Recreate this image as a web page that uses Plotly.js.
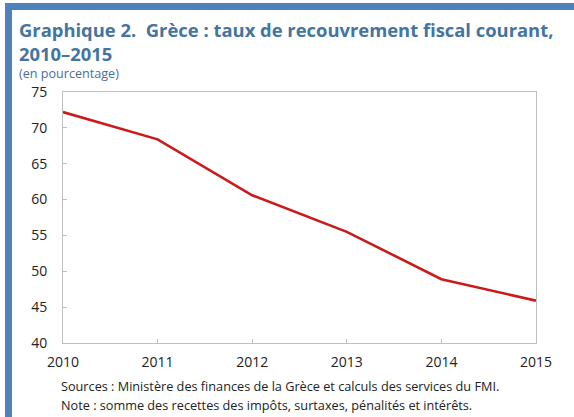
<!DOCTYPE html>
<html><head><meta charset="utf-8">
<script src="https://cdn.plot.ly/plotly-3.0.1.min.js"></script>
<style>html,body{margin:0;padding:0;background:#fff;}#chart{width:574px;height:417px;}</style>
</head><body><div id="chart"></div>
<script>
const years = [2010, 2011, 2012, 2013, 2014, 2015];
const rate = [72.2, 68.4, 60.6, 55.5, 48.9, 45.9];
const yTicks = [40, 45, 50, 55, 60, 65, 70, 75];
const titleLine1 = "Graphique 2.  Grèce : taux de recouvrement fiscal courant,";
const titleLine2 = "2010–2015";
const subtitle = "(en pourcentage)";
const note1 = "Sources : Ministère des finances de la Grèce et calculs des services du FMI.";
const note2 = "Note : somme des recettes des impôts, surtaxes, pénalités et intérêts.";

const W = 574, H = 417, L = 63, R = 38, T = 92, B = 74;
const pw = W - L - R, ph = H - T - B;
const px = x => (x - L) / pw;
const py = y => (H - B - y) / ph;
const blue = "#4f81bd";
const titleColor = "#44749f";
const font = "Open Sans, sans-serif";

const trace = {x: years, y: rate, type: "scatter", mode: "lines",
  line: {color: "#cc1a1a", width: 2.6}, hoverinfo: "skip"};

const ann = (text, x, y, size, color, bold) => ({
  text: bold ? "<b>" + text + "</b>" : text, xref: "paper", yref: "paper",
  x: px(x), y: py(y), xanchor: "left", yanchor: "middle", showarrow: false,
  align: "left", borderpad: 0,
  font: {family: font, size: size, color: color}
});

const layout = {
  width: W, height: H, margin: {l: L, r: R, t: T, b: B},
  paper_bgcolor: "#fff", plot_bgcolor: "#fff", showlegend: false,
  xaxis: {range: [2010, 2015], tickvals: years, ticks: "inside", ticklen: 4,
    tickcolor: "#bfbfbf", showgrid: false, zeroline: false, showline: true,
    linecolor: "#bfbfbf", linewidth: 1, mirror: true,
    tickfont: {family: font, size: 14, color: "#222"}, ticklabelstandoff: 6},
  yaxis: {range: [40, 75], tickvals: yTicks, ticks: "inside", ticklen: 4,
    tickcolor: "#bfbfbf", showgrid: false, zeroline: false, showline: true,
    linecolor: "#bfbfbf", linewidth: 1, mirror: true,
    tickfont: {family: font, size: 14, color: "#222"}, ticklabelstandoff: 12},
  shapes: [
    {type: "rect", xref: "paper", yref: "paper", x0: px(5), x1: px(574), y0: py(3), y1: py(10),
      fillcolor: blue, line: {width: 0}},
    {type: "rect", xref: "paper", yref: "paper", x0: px(5), x1: px(12), y0: py(3), y1: py(417),
      fillcolor: blue, line: {width: 0}}
  ],
  annotations: [
    ann("<b>" + titleLine1 + "</b><br><b>" + titleLine2 + "</b>", 18, 41.5, 18.4, titleColor, false),
    ann(subtitle, 18, 73.5, 12.6, "#4a6f93", false),
    ann(note1, 60, 386, 12.7, "#222", false),
    ann(note2, 60, 405, 12.7, "#222", false)
  ]
};
Plotly.newPlot("chart", [trace], layout, {displayModeBar: false, staticPlot: true});
</script></body></html>
